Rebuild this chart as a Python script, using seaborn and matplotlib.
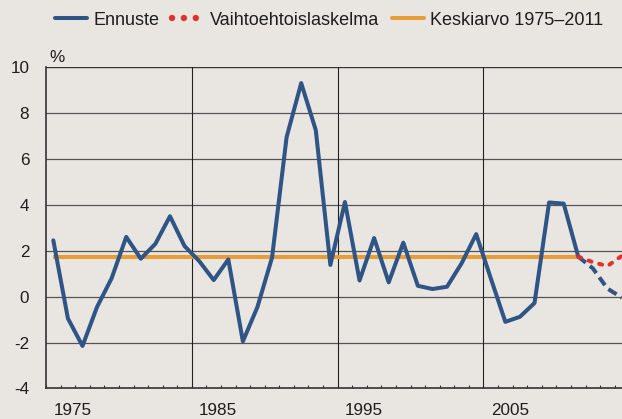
import matplotlib
matplotlib.use("Agg")
import matplotlib.pyplot as plt
from matplotlib.lines import Line2D
import numpy as np
import pandas as pd
import seaborn as sns

# ---- data ----
years = list(range(1975, 2012))
ennuste = [2.45, -0.95, -2.15, -0.45, 0.8, 2.6, 1.65, 2.3, 3.5, 2.2,
           1.55, 0.72, 1.62, -1.95, -0.45, 1.7, 6.95, 9.3, 7.25, 1.38,
           4.12, 0.7, 2.55, 0.62, 2.35, 0.47, 0.33, 0.43, 1.45, 2.72,
           0.8, -1.1, -0.88, -0.28, 4.1, 4.05, 1.74]
forecast_years = [2011, 2012, 2013, 2014]
ennuste_forecast = [1.74, 1.23, 0.35, -0.05]
vaihtoehto = [1.74, 1.5, 1.33, 1.78]
average_value = 1.74
average_years = [1975, 2011]

xtick_labels = [1975, 1985, 1995, 2005]
decade_lines = [1984.5, 1994.5, 2004.5]
yticks = [-4, -2, 0, 2, 4, 6, 8, 10]

# ---- style ----
bg = "#e9e6e2"
blue = "#2f5586"
red = "#e2312a"
orange = "#e99d36"
txt = "#1e1e1e"

sns.set_theme(style="white")
plt.rcParams['font.family'] = ['Liberation Sans', 'DejaVu Sans']

fig = plt.figure(figsize=(6.22, 4.19), dpi=100, facecolor=bg)
ax = fig.add_axes([0.074, 0.073, 0.926, 0.767])
ax.set_facecolor(bg)

df_main = pd.DataFrame({"year": years, "value": ennuste})
df_fc = pd.DataFrame({"year": forecast_years, "value": ennuste_forecast})
df_alt = pd.DataFrame({"year": forecast_years, "value": vaihtoehto})
df_avg = pd.DataFrame({"year": average_years, "value": [average_value] * len(average_years)})

lw = 2.9
sns.lineplot(data=df_avg, x="year", y="value", ax=ax, color=orange, lw=lw,
             solid_capstyle="butt", zorder=3)
sns.lineplot(data=df_main, x="year", y="value", ax=ax, color=blue, lw=lw, zorder=4)
fc_line = sns.lineplot(data=df_fc, x="year", y="value", ax=ax, color=blue, lw=lw,
                       zorder=4).lines[-1]
fc_line.set_linestyle((0, (2.4, 1.3)))
alt_line = sns.lineplot(data=df_alt, x="year", y="value", ax=ax, color=red, lw=lw,
                        zorder=5).lines[-1]
alt_line.set_linestyle((0, (0.75, 2.0)))
alt_line.set_dash_capstyle("round")

# grid
for yv in yticks[1:-1]:
    ax.axhline(yv, color="#555555", lw=0.9, zorder=1)
ax.axhline(yticks[-1], color="#333333", lw=1.0, zorder=1)
for xv in decade_lines:
    ax.axvline(xv, color="#222222", lw=0.8, zorder=1)

ax.set_xlim(1974.5, 2014.0)
ax.set_ylim(-4, 10)
ax.set_yticks(yticks)
ax.set_yticklabels([str(v) for v in yticks], fontsize=12.3, color=txt)
ax.set_xticks(xtick_labels)
ax.set_xticklabels([str(v) for v in xtick_labels], fontsize=12.3, color=txt, ha="left")
ax.set_xticks(np.arange(1974.5, 2014.0, 1.0), minor=True)
ax.tick_params(axis="x", which="major", length=0, pad=10.5)
ax.tick_params(axis="x", which="minor", direction="in", length=2.5, width=0.8,
               color="#333333", bottom=True)
ax.tick_params(axis="y", length=0, pad=12)
ax.set_xlabel("")
ax.set_ylabel("")

for side in ["top", "right"]:
    ax.spines[side].set_visible(False)
for side in ["left", "bottom"]:
    ax.spines[side].set_color("#333333")
    ax.spines[side].set_linewidth(1.2)

ax.text(0.005, 1.005, "%", transform=ax.transAxes, fontsize=12.3, color=txt,
        ha="left", va="bottom")

handles = [
    Line2D([], [], color=blue, lw=lw),
    Line2D([], [], color=red, lw=4.6, linestyle=(0, (0.01, 1.85)), dash_capstyle="round"),
    Line2D([], [], color=orange, lw=lw),
]
labels = ["Ennuste", "Vaihtoehtoislaskelma", "Keskiarvo 1975\u20132011"]
leg = fig.legend(handles, labels, loc="center", bbox_to_anchor=(0.529, 0.952), ncol=3,
                 frameon=False, fontsize=13, handlelength=1.77, handletextpad=0.33,
                 columnspacing=0.7, labelcolor=txt)

fig.savefig("out.png", dpi=100, facecolor=bg)
